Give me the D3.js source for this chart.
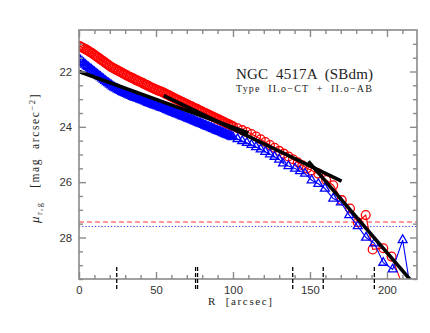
<!DOCTYPE html>
<html lang="en">
<head>
<meta charset="UTF-8">
<title>NGC 4517A surface brightness profile</title>
<script src="https://d3js.org/d3.v7.min.js"></script>
<style>
  body { margin: 0; background: #fff; }
  svg { display: block; }
</style>
</head>
<body>
<svg></svg>
<script>
// radius [arcsec] and surface brightness [mag arcsec^-2], r band (red circles)
const redR = [0, 1, 2, 3, 4, 5, 6, 7, 8, 9, 10, 11, 12, 13, 14, 15, 16, 17, 18, 19,
  20, 21, 22, 23, 24, 25, 26, 27, 28, 29, 30, 31, 32, 33, 34, 35, 36, 37, 38, 39,
  40, 41, 42, 43, 44, 45, 46, 47, 48, 49, 50, 51, 52, 53, 54, 55, 56, 57, 58, 59,
  60, 61, 62, 63, 64, 65, 66, 67, 68, 69, 70, 71, 72, 73, 74, 75, 76, 77, 78, 79,
  80, 81, 82, 83, 84, 85, 86, 87, 88, 89, 90, 91, 92, 93, 94, 95, 96, 97, 98, 99,
  100, 103, 106, 109, 112, 115, 118, 121, 124, 127, 130, 133, 136, 139, 142, 145, 148, 151,
  155.4, 160.5, 165.1, 170.6, 176, 181, 186.2, 190.7, 197.6, 203, 214];
const redMu = [21.08, 21.10, 21.13, 21.16, 21.19, 21.22, 21.25, 21.29, 21.32, 21.36, 21.40, 21.44, 21.48, 21.52, 21.56, 21.60, 21.64, 21.68, 21.72, 21.76,
  21.80, 21.84, 21.87, 21.90, 21.93, 21.96, 21.99, 22.02, 22.05, 22.08, 22.11, 22.14, 22.17, 22.20, 22.22, 22.25, 22.28, 22.31, 22.33, 22.36,
  22.38, 22.41, 22.44, 22.47, 22.49, 22.52, 22.55, 22.58, 22.60, 22.63, 22.65, 22.68, 22.70, 22.72, 22.74, 22.77, 22.80, 22.83, 22.85, 22.88,
  22.91, 22.94, 22.97, 23.00, 23.02, 23.05, 23.08, 23.10, 23.13, 23.16, 23.18, 23.21, 23.24, 23.26, 23.29, 23.32, 23.34, 23.37, 23.40, 23.42,
  23.45, 23.48, 23.50, 23.53, 23.56, 23.58, 23.61, 23.64, 23.66, 23.69, 23.72, 23.74, 23.77, 23.80, 23.82, 23.85, 23.88, 23.90, 23.93, 23.96,
  23.98, 24.05, 24.12, 24.19, 24.26, 24.35, 24.45, 24.55, 24.66, 24.76, 24.87, 24.97, 25.07, 25.17, 25.28, 25.39, 25.50, 25.58,
  25.69, 25.92, 26.11, 26.65, 26.95, 27.45, 27.19, 28.43, 28.39, 28.69, 30.3];

// g band (blue triangles)
const blueR = [0, 1, 2, 3, 4, 5, 6, 7, 8, 9, 10, 11, 12, 13, 14, 15, 16, 17, 18, 19,
  20, 21, 22, 23, 24, 25, 26, 27, 28, 29, 30, 31, 32, 33, 34, 35, 36, 37, 38, 39,
  40, 41, 42, 43, 44, 45, 46, 47, 48, 49, 50, 51, 52, 53, 54, 55, 56, 57, 58, 59,
  60, 61, 62, 63, 64, 65, 66, 67, 68, 69, 70, 71, 72, 73, 74, 75, 76, 77, 78, 79,
  80, 81, 82, 83, 84, 85, 86, 87, 88, 89, 90, 91, 92, 93, 94, 95, 96, 97, 98, 99,
  100, 103, 106, 109, 112, 115, 118, 121, 124, 127, 130, 132.5, 136, 140.3, 143.5, 146.8,
  151.1, 155.4, 159.7, 165.1, 170.1, 175.5, 181, 186.4, 191.8, 197.6, 203.7, 210.2, 216.5];
const blueMu = [21.55, 21.60, 21.65, 21.70, 21.75, 21.80, 21.84, 21.89, 21.93, 21.98, 22.02, 22.07, 22.11, 22.16, 22.20, 22.25, 22.29, 22.34, 22.38, 22.42,
  22.46, 22.50, 22.54, 22.58, 22.61, 22.64, 22.67, 22.70, 22.73, 22.76, 22.78, 22.81, 22.83, 22.86, 22.88, 22.91, 22.93, 22.95, 22.97, 22.99,
  23.01, 23.03, 23.05, 23.08, 23.10, 23.13, 23.15, 23.17, 23.19, 23.21, 23.23, 23.25, 23.27, 23.29, 23.31, 23.33, 23.35, 23.38, 23.40, 23.43,
  23.45, 23.47, 23.49, 23.52, 23.54, 23.56, 23.58, 23.61, 23.63, 23.65, 23.67, 23.70, 23.72, 23.74, 23.76, 23.79, 23.81, 23.84, 23.86, 23.88,
  23.90, 23.93, 23.95, 23.98, 24.00, 24.02, 24.04, 24.07, 24.09, 24.12, 24.14, 24.16, 24.18, 24.21, 24.23, 24.26, 24.28, 24.30, 24.32, 24.35,
  24.37, 24.44, 24.51, 24.58, 24.65, 24.73, 24.81, 24.90, 24.99, 25.08, 25.18, 25.32, 25.42, 25.51, 25.60, 25.69,
  25.93, 26.06, 26.23, 26.59, 26.73, 27.19, 27.59, 28.00, 28.21, 28.91, 29.15, 28.09, 30.3];

// fitted exponential pieces: [start, end] radius and mu
const fitR = [[0, 110], [55, 170.5], [149, 215.5]];
const fitMu = [[22.0, 24.22], [22.87, 25.96], [25.25, 29.55]];

// break radii marked on the R axis
const breakR = [24.5, 75.7, 77.0, 138.8, 158.6, 191.8];

// limiting surface brightness levels
const limitRed = 27.44;
const limitBlue = 27.6;

const xTicks = [0, 50, 100, 150, 200];
const yTicks = [22, 24, 26, 28];

const W = 430, H = 333;
const frame = {left: 79, right: 417, top: 30, bottom: 279};

const svg = d3.select("svg").attr("width", W).attr("height", H);

const x = d3.scaleLinear().domain([0, 219.5]).range([frame.left, frame.right]);
const y = d3.scaleLinear().domain([20.5, 29.5]).range([frame.top, frame.bottom]);

const axisColor = "#8a8a8a";

svg.append("clipPath").attr("id", "plotclip")
  .append("rect")
  .attr("x", frame.left).attr("y", frame.top)
  .attr("width", frame.right - frame.left).attr("height", frame.bottom - frame.top);

// limiting levels
svg.append("line")
  .attr("x1", frame.left).attr("x2", frame.right)
  .attr("y1", y(limitRed)).attr("y2", y(limitRed))
  .attr("stroke", "#ff3030").attr("stroke-width", 1)
  .attr("stroke-dasharray", "5,3");
svg.append("line")
  .attr("x1", frame.left).attr("x2", frame.right)
  .attr("y1", y(limitBlue)).attr("y2", y(limitBlue))
  .attr("stroke", "#3030ff").attr("stroke-width", 1)
  .attr("stroke-dasharray", "1.2,2");

const plot = svg.append("g").attr("clip-path", "url(#plotclip)");

const line = d3.line().x(d => x(d[0])).y(d => y(d[1]));

const red = d3.zip(redR, redMu);
const blue = d3.zip(blueR, blueMu);

// red profile
plot.append("path").datum(red)
  .attr("d", line).attr("fill", "none")
  .attr("stroke", "#ff0000").attr("stroke-width", 1.1);
plot.append("g").selectAll("circle")
  .data(red).enter().append("circle")
  .attr("cx", d => x(d[0])).attr("cy", d => y(d[1]))
  .attr("r", 4.4)
  .attr("fill", "none").attr("stroke", "#ff0000").attr("stroke-width", 1.3);

// blue profile
plot.append("path").datum(blue)
  .attr("d", line).attr("fill", "none")
  .attr("stroke", "#0000ff").attr("stroke-width", 1.1);
const tri = d3.symbol(d3.symbolTriangle, 34);
plot.append("g").selectAll("path")
  .data(blue).enter().append("path")
  .attr("d", tri)
  .attr("transform", d => `translate(${x(d[0])},${y(d[1])})`)
  .attr("fill", "none").attr("stroke", "#0000ff").attr("stroke-width", 1.3);

// fits
plot.append("g").selectAll("line")
  .data(d3.zip(fitR, fitMu)).enter().append("line")
  .attr("x1", d => x(d[0][0])).attr("x2", d => x(d[0][1]))
  .attr("y1", d => y(d[1][0])).attr("y2", d => y(d[1][1]))
  .attr("stroke", "#000").attr("stroke-width", 3.6);

// frame + ticks
svg.append("rect")
  .attr("x", frame.left).attr("y", frame.top)
  .attr("width", frame.right - frame.left).attr("height", frame.bottom - frame.top)
  .attr("fill", "none").attr("stroke", axisColor).attr("stroke-width", 1.6);

const xMinor = d3.range(0, 220, 10).filter(v => v % 50 !== 0);
const yMinor = d3.range(21, 29.6, 0.5).filter(v => v % 2 !== 0);

function styleAxis(g) {
  g.select(".domain").remove();
  g.selectAll("line").attr("stroke", axisColor).attr("stroke-width", 1.4);
  g.selectAll("text")
    .attr("fill", "#333")
    .style("font-family", "'Liberation Sans', Arial, sans-serif")
    .style("font-size", "11.3px");
}

svg.append("g").attr("transform", `translate(0,${frame.bottom})`)
  .call(d3.axisBottom(x).tickValues(xTicks).tickSizeInner(-7).tickSizeOuter(0).tickPadding(7))
  .call(styleAxis);
svg.append("g").attr("transform", `translate(0,${frame.bottom})`)
  .call(d3.axisBottom(x).tickValues(xMinor).tickSizeInner(-4).tickSizeOuter(0).tickFormat(""))
  .call(styleAxis);
svg.append("g").attr("transform", `translate(0,${frame.top})`)
  .call(d3.axisTop(x).tickValues(xTicks).tickSizeInner(-7).tickSizeOuter(0).tickFormat(""))
  .call(styleAxis);
svg.append("g").attr("transform", `translate(0,${frame.top})`)
  .call(d3.axisTop(x).tickValues(xMinor).tickSizeInner(-4).tickSizeOuter(0).tickFormat(""))
  .call(styleAxis);

svg.append("g").attr("transform", `translate(${frame.left},0)`)
  .call(d3.axisLeft(y).tickValues(yTicks).tickSizeInner(-7).tickSizeOuter(0).tickPadding(7))
  .call(styleAxis);
svg.append("g").attr("transform", `translate(${frame.left},0)`)
  .call(d3.axisLeft(y).tickValues(yMinor).tickSizeInner(-4).tickSizeOuter(0).tickFormat(""))
  .call(styleAxis);
svg.append("g").attr("transform", `translate(${frame.right},0)`)
  .call(d3.axisRight(y).tickValues(yTicks).tickSizeInner(-7).tickSizeOuter(0).tickFormat(""))
  .call(styleAxis);
svg.append("g").attr("transform", `translate(${frame.right},0)`)
  .call(d3.axisRight(y).tickValues(yMinor).tickSizeInner(-4).tickSizeOuter(0).tickFormat(""))
  .call(styleAxis);

// break markers straddling the R axis
svg.append("g").selectAll("line")
  .data(breakR).enter().append("line")
  .attr("x1", d => x(d)).attr("x2", d => x(d))
  .attr("y1", frame.bottom - 12).attr("y2", frame.bottom + 10)
  .attr("stroke", "#000").attr("stroke-width", 1.3)
  .attr("stroke-dasharray", "4,2");

// labels (thin serif, widely spaced like the original plotting font)
const serif = "'Liberation Serif', 'DejaVu Serif', serif";

svg.append("text")
  .attr("x", 208).attr("y", 305)
  .attr("textLength", 64).attr("lengthAdjust", "spacing")
  .style("font-family", serif).style("font-size", "11px")
  .style("white-space", "pre")
  .attr("fill", "#222")
  .text("R  [arcsec]");

const ylab = svg.append("text")
  .attr("transform", "translate(39,158) rotate(-90)")
  .attr("text-anchor", "middle")
  .style("font-family", serif).style("font-size", "11.5px")
  .style("letter-spacing", "1.6px")
  .style("white-space", "pre")
  .attr("fill", "#222");
ylab.append("tspan")
  .style("font-style", "italic")
  .style("font-size", "13px").text("\u03bc");
ylab.append("tspan").attr("dy", 3).style("font-size", "8.5px").text("r,g");
ylab.append("tspan").attr("dy", -3).text("   [mag  arcsec");
ylab.append("tspan").attr("dy", -4.5).style("font-size", "8.5px").text("\u22122");
ylab.append("tspan").attr("dy", 4.5).text("]");

svg.append("text")
  .attr("x", 236).attr("y", 78.5)
  .attr("textLength", 137).attr("lengthAdjust", "spacing")
  .style("font-family", serif).style("font-size", "15px")
  .style("white-space", "pre")
  .attr("fill", "#222")
  .text("NGC  4517A  (SBdm)");
svg.append("text")
  .attr("x", 236).attr("y", 92)
  .attr("textLength", 136).attr("lengthAdjust", "spacing")
  .style("font-family", serif).style("font-size", "10px")
  .style("white-space", "pre")
  .attr("fill", "#222")
  .text("Type  II.o\u2212CT  +  II.o\u2212AB");
</script>
</body>
</html>
